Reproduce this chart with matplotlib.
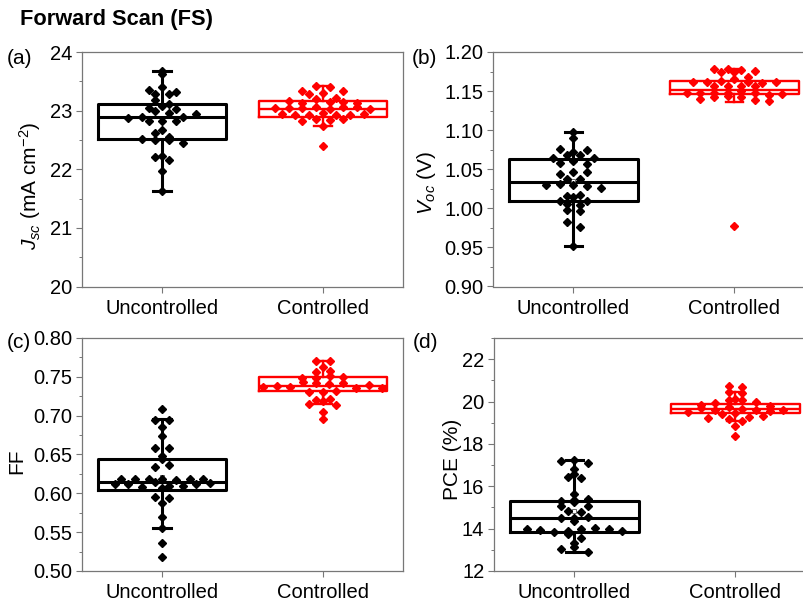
import numpy as np
import matplotlib
matplotlib.use("Agg")
import matplotlib.pyplot as plt
from matplotlib.ticker import MultipleLocator, FormatStrFormatter

plt.rcParams['font.family'] = ['Liberation Sans', 'DejaVu Sans']
plt.rcParams['mathtext.fontset'] = 'custom'
plt.rcParams['mathtext.rm'] = 'Liberation Sans'
plt.rcParams['mathtext.it'] = 'Liberation Sans:italic'

groups = ["Uncontrolled", "Controlled"]

# device parameters, one value per cell
jsc_unc = [23.68, 23.62, 23.41, 23.36, 23.32, 23.29, 23.28, 23.18, 23.12, 23.08,
           23.04, 22.99, 23.02, 22.96, 22.89, 22.83, 22.83, 22.83, 22.89, 22.88,
           22.94, 22.67, 22.62, 22.55, 22.50, 22.50, 22.51, 22.44, 22.21, 22.15,
           22.22, 21.97, 21.63]
jsc_con = [23.42, 23.40, 23.33, 23.33, 23.30, 23.29, 23.20, 23.21, 23.15, 23.13,
           23.14, 23.16, 23.13, 23.06, 23.03, 23.04, 23.07, 23.05, 23.06, 23.04,
           23.02, 22.96, 22.93, 22.93, 22.93, 22.93, 22.95, 22.95, 22.85, 22.84,
           22.83, 22.85, 22.74, 22.39]

voc_unc = [1.0975, 1.090, 1.072, 1.068, 1.076, 1.068, 1.074, 1.065, 1.060, 1.064,
           1.058, 1.0567, 1.0465, 1.044, 1.0465, 1.038, 1.037, 1.030, 1.031, 1.029,
           1.030, 1.0255, 1.016, 1.014, 1.017, 1.009, 1.006, 1.010, 1.004, 0.998,
           0.996, 0.983, 0.976, 0.952]
voc_con = [1.178, 1.177, 1.178, 1.176, 1.175, 1.174, 1.166, 1.1685, 1.163, 1.161,
           1.162, 1.160, 1.161, 1.162, 1.157, 1.157, 1.156, 1.157, 1.148, 1.150,
           1.147, 1.148, 1.148, 1.145, 1.144, 1.148, 1.146, 1.143, 1.142, 1.139,
           1.140, 1.137, 0.9775]

ff_unc = [0.709, 0.695, 0.694, 0.685, 0.674, 0.658, 0.659, 0.644, 0.648, 0.6335,
          0.6365, 0.618, 0.6145, 0.6095, 0.618, 0.617, 0.608, 0.619, 0.6095, 0.618,
          0.6125, 0.619, 0.612, 0.607, 0.612, 0.613, 0.618, 0.5957, 0.5936, 0.587,
          0.5692, 0.555, 0.5365, 0.5177]
ff_con = [0.771, 0.770, 0.763, 0.7566, 0.758, 0.748, 0.751, 0.749, 0.750, 0.742,
          0.741, 0.743, 0.742, 0.737, 0.736, 0.738, 0.739, 0.737, 0.736, 0.730,
          0.731, 0.732, 0.720, 0.719, 0.721, 0.7146, 0.7137, 0.7043, 0.6957]

pce_unc = [17.24, 17.2, 17.1, 16.81, 16.58, 16.45, 16.37, 15.63, 15.35, 15.28,
           15.32, 15.40, 15.08, 15.08, 14.83, 14.80, 14.50, 14.51, 14.55, 14.36,
           13.88, 14.00, 13.84, 14.02, 13.95, 13.98, 13.96, 13.90, 13.73, 13.54,
           13.33, 13.15, 13.02, 12.91]
pce_con = [20.74, 20.70, 20.45, 20.40, 20.09, 20.08, 20.10, 19.95, 19.98, 19.85,
           19.80, 19.72, 19.66, 19.62, 19.60, 19.68, 19.55, 19.50, 19.58, 19.45,
           19.42, 19.26, 19.22, 19.30, 19.17, 19.09, 18.84, 18.37]

# box statistics: q1, median, q3, lower whisker, upper whisker
jsc_box = [(22.51, 22.89, 23.12, 21.63, 23.68), (22.89, 23.03, 23.16, 22.74, 23.42)]
voc_box = [(1.0094, 1.0332, 1.0634, 0.952, 1.0975), (1.1468, 1.1515, 1.1634, 1.1366, 1.178)]
ff_box = [(0.6043, 0.615, 0.6438, 0.5558, 0.6957), (0.7322, 0.7386, 0.7494, 0.7146, 0.7708)]
pce_box = [(13.85, 14.49, 15.32, 12.91, 17.24), (19.44, 19.64, 19.88, 19.09, 20.43)]

colors = ["black", "#ff0000"]
box_lw = [2.2, 1.7]


def swarm_x(values, center, ybin, step=0.085, maxw=0.74):
    # spread points that share a y-bin sideways, centred on the box
    vals = np.asarray(values, float)
    keys = np.floor(vals / ybin)
    xs = np.full(len(vals), float(center))
    for k in np.unique(keys):
        idx = np.where(keys == k)[0]
        n = len(idx)
        if n < 2:
            continue
        sep = min(step, maxw / (n - 1))
        offs = (np.arange(n) - (n - 1) / 2) * sep
        order = np.argsort(np.abs(offs), kind="stable")
        for j, i in enumerate(idx):
            xs[i] = center + offs[order[j]]
    return xs


def panel(ax, data, boxes, ylim, major, ylabel, ybin):
    for i, (vals, st) in enumerate(zip(data, boxes)):
        q1, med, q3, lo, hi = st
        stats = [dict(q1=q1, med=med, q3=q3, whislo=lo, whishi=hi,
                      mean=np.mean(vals), fliers=[])]
        lw = box_lw[i]
        c = colors[i]
        ax.bxp(stats, positions=[i + 1], widths=0.8, capwidths=0.11,
               showmeans=(i == 0), showfliers=False,
               boxprops=dict(color=c, lw=lw),
               medianprops=dict(color=c, lw=lw),
               whiskerprops=dict(color=c, lw=lw),
               capprops=dict(color=c, lw=lw),
               meanprops=dict(marker="s", markersize=3, markerfacecolor="white",
                              markeredgecolor="#555555", markeredgewidth=0.6),
               manage_ticks=False)
        xs = swarm_x(vals, i + 1, ybin)
        ax.plot(xs, vals, ls="none", marker="D", ms=4.0, color=c, zorder=5)

    ax.set_xlim(0.5, 2.5)
    ax.set_ylim(*ylim)
    ax.set_xticks([1, 2])
    ax.set_xticklabels(groups)
    ax.yaxis.set_major_locator(MultipleLocator(major))
    ax.yaxis.set_minor_locator(MultipleLocator(major / 2))
    ax.set_ylabel(ylabel, fontsize=15)
    for s in ax.spines.values():
        s.set_color("#777777")
        s.set_linewidth(0.9)
    ax.tick_params(axis="both", which="major", length=4, width=0.8,
                   color="#777777", labelsize=14.5, pad=3, direction="out")
    ax.tick_params(axis="y", which="minor", length=2.5, width=0.7,
                   color="#777777", direction="out")
    ax.tick_params(axis="x", which="minor", bottom=False)
    ax.tick_params(axis="x", pad=5)


fig = plt.figure(figsize=(8.04, 6.03), dpi=100)
W, H = 804, 603


def add_ax(left, top, right, bottom):
    return fig.add_axes([left / W, 1 - bottom / H, (right - left) / W, (bottom - top) / H])


ax_a = add_ax(82, 52, 403, 286.5)
ax_b = add_ax(493, 52, 815, 286.5)
ax_c = add_ax(82, 338, 403, 571)
ax_d = add_ax(494, 338, 816, 571)

panel(ax_a, [jsc_unc, jsc_con], jsc_box, (20, 24), 1,
      r"$J_{sc}$ (mA cm$^{-2}$)", 0.11)
panel(ax_b, [voc_unc, voc_con], voc_box, (0.90, 1.20), 0.05,
      r"$V_{oc}$ (V)", 0.008)
panel(ax_c, [ff_unc, ff_con], ff_box, (0.50, 0.80), 0.05, "FF", 0.008)
panel(ax_d, [pce_unc, pce_con], pce_box, (12, 23), 2, "PCE (%)", 0.3)

ax_a.yaxis.set_major_formatter(FormatStrFormatter("%d"))
ax_b.yaxis.set_major_formatter(FormatStrFormatter("%.2f"))
ax_c.yaxis.set_major_formatter(FormatStrFormatter("%.2f"))
ax_d.yaxis.set_major_locator(MultipleLocator(2))
ax_d.yaxis.set_minor_locator(MultipleLocator(1))

ax_a.yaxis.set_label_coords(-0.12, 0.43)
ax_b.yaxis.set_label_coords(-0.17, 0.44)
ax_c.yaxis.set_label_coords(-0.175, 0.47)
ax_d.yaxis.set_label_coords(-0.10, 0.48)

fig.text(20 / W, 1 - 20 / H, "Forward Scan (FS)", fontsize=15.7,
         fontweight="bold", ha="left", va="center")
for lab, x, y in [("(a)", 7, 58), ("(b)", 412, 58), ("(c)", 7, 343), ("(d)", 413, 343)]:
    fig.text(x / W, 1 - y / H, lab, fontsize=15, ha="left", va="center")

fig.savefig("out.png", dpi=100)
